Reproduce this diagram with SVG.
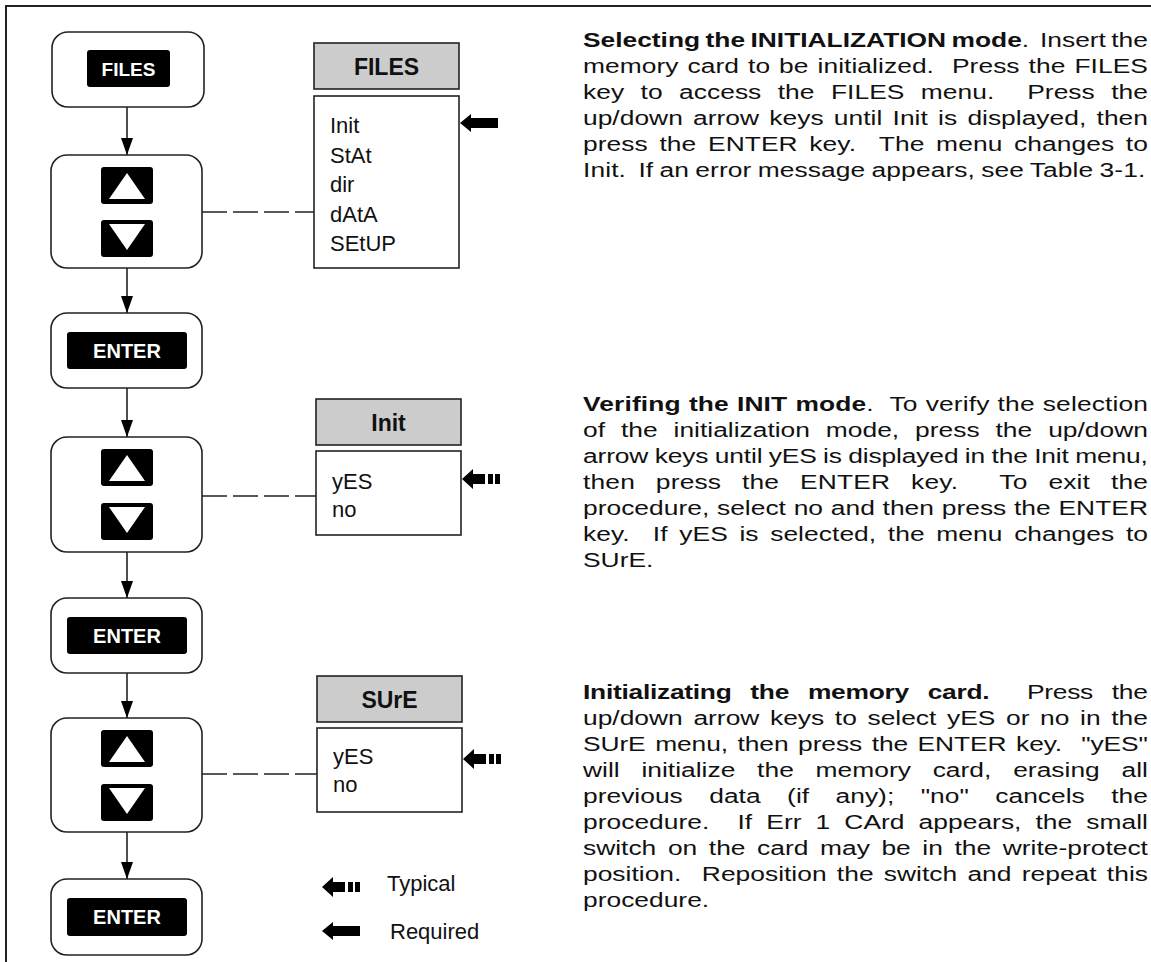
<svg xmlns="http://www.w3.org/2000/svg" width="1151" height="962" viewBox="0 0 1151 962">
<style>
.frame{stroke:#222;stroke-width:2;fill:none}
.box{fill:#fff;stroke:#222;stroke-width:1.6}
.key{fill:#000}
.keytxt{font-family:"Liberation Sans",Arial,sans-serif;font-weight:bold;fill:#fff;text-anchor:middle}
.tri{fill:#fff}
.mhead{fill:#ccc;stroke:#222;stroke-width:1.6}
.mbody{fill:#fff;stroke:#222;stroke-width:1.6}
.mhtxt{font-family:"Liberation Sans",Arial,sans-serif;font-weight:bold;font-size:23px;text-anchor:middle;fill:#111}
.mitem{font-family:"Liberation Sans",Arial,sans-serif;font-size:22px;fill:#111}
.flow{stroke:#222;stroke-width:1.6;fill:none}
.dash{stroke:#222;stroke-width:1.6;fill:none;stroke-dasharray:25 6}
.para{font-family:"Liberation Sans",Arial,sans-serif;font-size:20px;fill:#111;white-space:pre}
.b{font-weight:bold}
.leg{font-family:"Liberation Sans",Arial,sans-serif;font-size:22px;fill:#111}
</style>
<defs>
<marker id="ah" markerUnits="userSpaceOnUse" markerWidth="17" markerHeight="12" refX="17" refY="6" orient="auto" viewBox="0 0 17 12">
<path d="M0,0 L17,6 L0,12 Z" fill="#000"/>
</marker>
<g id="req"><path d="M0,0 L11,-9 L11,-5 L38,-5 L38,5 L11,5 L11,9 Z" fill="#000"/></g>
<g id="typ"><path d="M0,0 L11,-10 L11,-5 L23,-5 L23,5 L11,5 L11,10 Z" fill="#000"/><rect x="26" y="-5" width="5" height="10" fill="#000"/><rect x="33" y="-5" width="5" height="10" fill="#000"/></g>
<g id="upk"><rect x="0" y="0" width="52" height="37" rx="3" class="key"/><path d="M8,32 L44,32 L26,6 Z" class="tri"/></g>
<g id="dnk"><rect x="0" y="0" width="52" height="37" rx="3" class="key"/><path d="M8,4 L44,4 L26,30 Z" class="tri"/></g>
</defs>

<path class="frame" d="M6,962 L6,6 L1151,6"/>

<g id="connectors">
<line class="flow" x1="127" y1="107" x2="127" y2="155" marker-end="url(#ah)"/>
<line class="flow" x1="127" y1="268" x2="127" y2="313" marker-end="url(#ah)"/>
<line class="flow" x1="127" y1="388" x2="127" y2="437" marker-end="url(#ah)"/>
<line class="flow" x1="127" y1="552" x2="127" y2="598" marker-end="url(#ah)"/>
<line class="flow" x1="127" y1="673" x2="127" y2="718" marker-end="url(#ah)"/>
<line class="flow" x1="127" y1="832" x2="127" y2="879" marker-end="url(#ah)"/>
<line class="dash" x1="202" y1="212" x2="314" y2="212"/>
<line class="dash" x1="202" y1="496" x2="316" y2="496"/>
<line class="dash" x1="202" y1="774" x2="317" y2="774"/>
</g>

<g id="n-files-key">
<rect class="box" x="52" y="32" width="152" height="75" rx="16"/>
<rect class="key" x="87" y="50" width="83" height="37" rx="3"/>
<text class="keytxt" x="128.5" y="75.5" font-size="19">FILES</text>
</g>
<g id="n-updown-1">
<rect class="box" x="51" y="155" width="151" height="113" rx="16"/>
<use href="#upk" x="101" y="167"/>
<use href="#dnk" x="101" y="220"/>
</g>
<g id="n-enter-1">
<rect class="box" x="51" y="313" width="151" height="75" rx="16"/>
<rect class="key" x="67" y="332" width="120" height="37" rx="3"/>
<text class="keytxt" x="127" y="357.5" font-size="20">ENTER</text>
</g>
<g id="n-updown-2">
<rect class="box" x="51" y="437" width="151" height="115" rx="16"/>
<use href="#upk" x="101" y="449"/>
<use href="#dnk" x="101" y="503"/>
</g>
<g id="n-enter-2">
<rect class="box" x="51" y="598" width="151" height="75" rx="16"/>
<rect class="key" x="67" y="617" width="120" height="37" rx="3"/>
<text class="keytxt" x="127" y="642.5" font-size="20">ENTER</text>
</g>
<g id="n-updown-3">
<rect class="box" x="51" y="718" width="151" height="114" rx="16"/>
<use href="#upk" x="101" y="730"/>
<use href="#dnk" x="101" y="784"/>
</g>
<g id="n-enter-3">
<rect class="box" x="51" y="879" width="151" height="76" rx="16"/>
<rect class="key" x="67" y="898" width="120" height="38" rx="3"/>
<text class="keytxt" x="127" y="924" font-size="20">ENTER</text>
</g>

<g id="n-files-menu">
<rect class="mhead" x="314" y="43" width="145" height="46"/>
<text class="mhtxt" x="386.5" y="75">FILES</text>
<rect class="mbody" x="314" y="96" width="145" height="172"/>
<text class="mitem" x="330" y="133">Init</text>
<text class="mitem" x="330" y="163">StAt</text>
<text class="mitem" x="330" y="192">dir</text>
<text class="mitem" x="330" y="222">dAtA</text>
<text class="mitem" x="330" y="251">SEtUP</text>
<use href="#req" x="460" y="123"/>
</g>
<g id="n-init-menu">
<rect class="mhead" x="316" y="399" width="145" height="46"/>
<text class="mhtxt" x="388.5" y="431">Init</text>
<rect class="mbody" x="316" y="451" width="145" height="84"/>
<text class="mitem" x="332" y="489">yES</text>
<text class="mitem" x="332" y="517">no</text>
<use href="#typ" x="462" y="479"/>
</g>
<g id="n-sure-menu">
<rect class="mhead" x="317" y="676" width="145" height="46"/>
<text class="mhtxt" x="389.5" y="708">SUrE</text>
<rect class="mbody" x="317" y="728" width="145" height="84"/>
<text class="mitem" x="333" y="764">yES</text>
<text class="mitem" x="333" y="792">no</text>
<use href="#typ" x="463" y="759"/>
</g>

<g id="legend">
<use href="#typ" x="322" y="887"/>
<text class="leg" x="387" y="891">Typical</text>
<use href="#req" x="322" y="931"/>
<text class="leg" x="390" y="939">Required</text>
</g>

<g id="p1" transform="translate(583,0) scale(1.32,1)">
<text class="para" x="0" y="47" textLength="428" lengthAdjust="spacing" style="word-spacing:-1.4px"><tspan class="b">Selecting the INITIALIZATION mode</tspan>.  Insert the</text>
<text class="para" x="0" y="73" textLength="428" lengthAdjust="spacing" style="word-spacing:1.2px">memory card to be initialized.  Press the FILES</text>
<text class="para" x="0" y="99" textLength="428" lengthAdjust="spacing" style="word-spacing:6.9px">key to access the FILES menu.  Press the</text>
<text class="para" x="0" y="125" textLength="428" lengthAdjust="spacing" style="word-spacing:2.2px">up/down arrow keys until Init is displayed, then</text>
<text class="para" x="0" y="151" textLength="428" lengthAdjust="spacing" style="word-spacing:3.2px">press the ENTER key.  The menu changes to</text>
<text class="para" x="0" y="177" textLength="426" lengthAdjust="spacing" style="word-spacing:-0.9px">Init.  If an error message appears, see Table 3-1.</text>
</g>
<g id="p2" transform="translate(583,0) scale(1.32,1)">
<text class="para" x="0" y="411" textLength="428" lengthAdjust="spacing" style="word-spacing:0.5px"><tspan class="b">Verifing the INIT mode</tspan>.  To verify the selection</text>
<text class="para" x="0" y="437" textLength="428" lengthAdjust="spacing" style="word-spacing:6.5px">of the initialization mode, press the up/down</text>
<text class="para" x="0" y="463" textLength="428" lengthAdjust="spacing" style="word-spacing:-0.6px">arrow keys until yES is displayed in the Init menu,</text>
<text class="para" x="0" y="489" textLength="428" lengthAdjust="spacing" style="word-spacing:10.1px">then press the ENTER key.  To exit the</text>
<text class="para" x="0" y="515" textLength="428" lengthAdjust="spacing" style="word-spacing:0.3px">procedure, select no and then press the ENTER</text>
<text class="para" x="0" y="541" textLength="428" lengthAdjust="spacing" style="word-spacing:3.2px">key.  If yES is selected, the menu changes to</text>
<text class="para" x="0" y="567">SUrE.</text>
</g>
<g id="p3" transform="translate(583,0) scale(1.32,1)">
<text class="para" x="0" y="699" textLength="428" lengthAdjust="spacing" style="word-spacing:8.9px"><tspan class="b">Initializating the memory card.</tspan>  Press the</text>
<text class="para" x="0" y="725" textLength="428" lengthAdjust="spacing" style="word-spacing:2.5px">up/down arrow keys to select yES or no in the</text>
<text class="para" x="0" y="751" textLength="428" lengthAdjust="spacing" style="word-spacing:1.8px">SUrE menu, then press the ENTER key.  "yES"</text>
<text class="para" x="0" y="777" textLength="428" lengthAdjust="spacing" style="word-spacing:10.9px">will initialize the memory card, erasing all</text>
<text class="para" x="0" y="803" textLength="428" lengthAdjust="spacing" style="word-spacing:14.5px">previous data (if any); "no" cancels the</text>
<text class="para" x="0" y="829" textLength="428" lengthAdjust="spacing" style="word-spacing:5.1px">procedure.  If Err 1 CArd appears, the small</text>
<text class="para" x="0" y="855" textLength="428" lengthAdjust="spacing" style="word-spacing:3.2px">switch on the card may be in the write-protect</text>
<text class="para" x="0" y="881" textLength="428" lengthAdjust="spacing" style="word-spacing:2.2px">position.  Reposition the switch and repeat this</text>
<text class="para" x="0" y="907">procedure.</text>
</g>
</svg>
